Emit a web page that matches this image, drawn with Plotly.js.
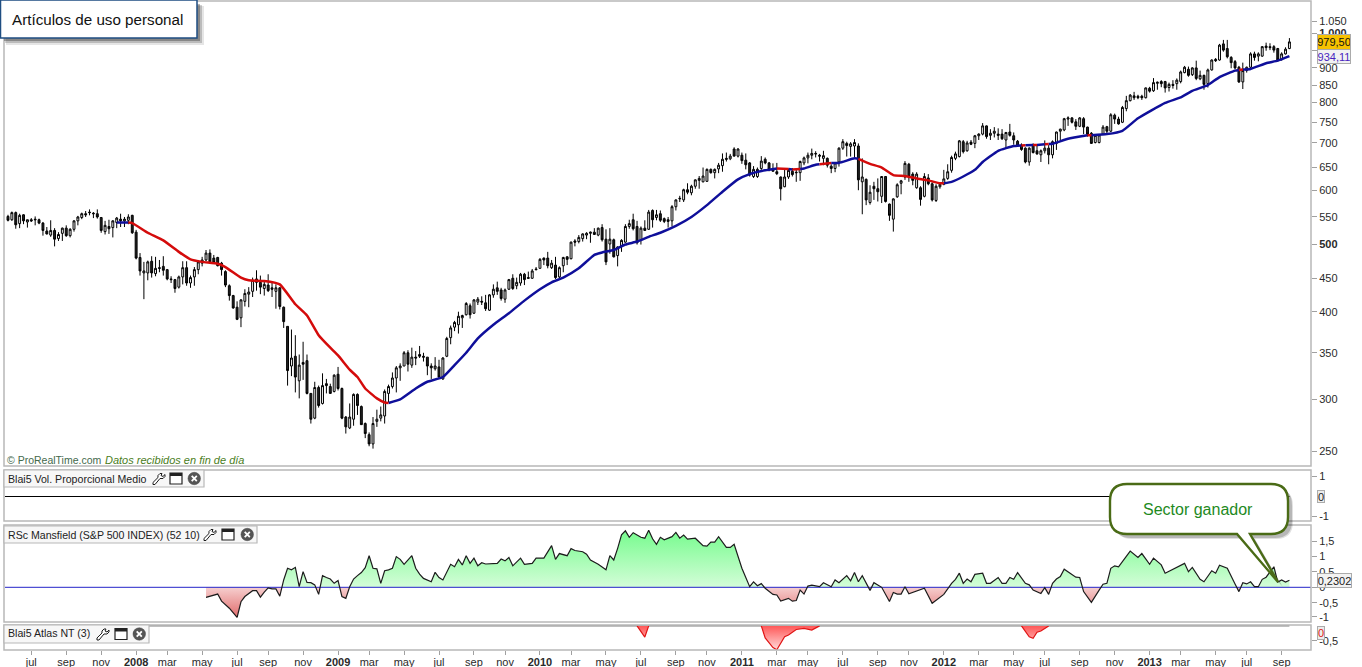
<!DOCTYPE html>
<html><head><meta charset="utf-8">
<script src="https://cdn.plot.ly/plotly-3.0.1.min.js"></script>
<style>html,body{margin:0;padding:0;background:#fff;overflow:hidden}#c{width:1362px;height:667px}</style>
</head><body><div id="c"></div>
<script>
// Weekly candles, week index 0..330
const opens=[547,541,554,534,550,537,541,542,541,535,
521,514,522,508,517,526,513,524,539,545,
552,555,553,552,545,520,529,527,536,542,
539,540,549,519,477,453,453,471,452,461,
463,458,444,443,432,447,461,438,447,458,
468,473,484,476,477,468,455,434,420,404,
390,412,422,426,444,439,430,435,431,426,
431,404,379,332,343,316,336,338,303,279,
309,293,313,310,305,323,308,280,270,278,
302,290,274,264,256,276,279,281,303,310,
319,330,332,347,333,342,345,343,342,332,
329,331,318,343,365,378,381,390,394,406,
396,411,412,410,400,421,431,428,415,429,
445,434,438,451,446,445,459,460,476,476,
461,465,447,464,478,475,504,503,508,514,
517,519,514,527,507,499,506,480,495,502,
529,541,529,506,526,524,558,545,552,543,
541,539,565,580,578,598,592,605,617,614,
615,640,633,641,648,664,663,685,669,671,
660,654,625,625,642,662,654,642,635,624,
604,624,636,634,633,654,665,671,675,671,
664,664,647,642,656,687,698,691,692,692,
614,619,573,605,600,585,625,570,542,584,
611,624,651,630,602,602,585,622,610,577,
604,609,621,638,664,668,702,681,701,698,
716,720,740,717,722,720,720,706,725,716,
703,694,687,656,694,681,672,681,687,672,
698,727,730,757,760,750,739,758,737,722,
700,700,720,738,727,767,757,749,784,805,
818,817,817,813,839,832,853,858,858,841,
850,852,858,884,894,878,898,866,876,852,
892,924,922,973,958,930,917,900,857,890,
900,941,934,934,966,964,964,958,924,941,
958];
const closes=[540,554,532,549,539,541,539,541,535,522,
516,522,507,515,526,513,524,539,546,552,
550,554,552,546,522,531,525,539,544,539,
542,546,518,476,456,456,470,453,460,460,
457,444,443,430,447,461,438,446,458,470,
473,484,470,469,464,458,435,420,403,388,
414,423,425,442,439,432,436,427,429,431,
405,385,327,341,320,333,334,303,278,309,
291,311,311,303,322,308,279,271,280,302,
291,273,265,256,274,278,282,305,310,319,
330,332,347,334,342,341,343,342,332,330,
332,320,341,364,377,384,392,393,409,394,
414,415,411,402,421,429,426,416,428,443,
430,439,451,443,445,456,458,474,473,464,
468,446,461,477,474,502,502,510,516,517,
519,515,526,506,470,507,478,494,505,529,
534,525,501,526,522,555,541,550,540,538,
538,565,578,581,598,593,605,618,621,626,
640,633,640,649,662,662,669,669,685,659,
650,628,640,640,658,654,639,636,631,600,
624,638,629,633,657,665,671,675,674,669,
670,649,642,654,687,702,693,697,700,618,
624,578,593,600,594,625,575,549,580,608,
616,653,625,617,630,579,625,610,578,605,
609,620,635,666,674,704,679,699,696,716,
720,740,714,722,727,717,709,724,717,706,
692,684,656,687,677,674,681,687,672,702,
725,732,758,760,749,739,760,737,720,698,
717,718,737,727,768,757,745,787,805,820,
813,813,813,840,831,855,856,852,840,850,
847,862,886,900,876,898,867,876,850,892,
922,920,969,953,932,914,898,857,890,900,
941,930,941,964,961,961,953,922,941,956,
979.5];
const highs=[550,556,556,552,551,541,544,547,543,537,
528,540,526,519,527,531,526,540,548,554,
557,560,555,560,546,539,541,540,546,552,
546,551,550,523,484,470,472,479,478,473,
479,459,448,444,449,471,471,449,462,473,
478,489,490,481,478,470,457,436,421,412,
415,429,432,446,457,449,441,451,440,436,
432,405,379,375,368,345,360,345,303,315,
311,324,318,313,323,331,309,281,293,303,
303,291,275,266,280,287,290,307,312,325,
332,335,349,350,353,349,355,347,342,335,
342,339,342,366,380,386,398,394,411,409,
415,418,419,421,422,436,440,431,430,444,
451,446,453,453,455,459,462,476,477,486,
473,478,463,478,479,503,507,514,517,519,
520,526,527,533,524,526,508,495,507,533,
541,552,539,529,540,559,560,559,558,545,
546,568,579,586,600,611,608,619,626,644,
642,642,642,654,675,677,674,689,687,677,
675,656,647,644,669,666,656,653,654,625,
639,642,643,640,659,668,677,686,680,674,
681,666,651,656,689,708,702,701,708,698,
664,621,607,614,621,626,626,571,581,611,
618,658,654,634,634,605,632,630,613,609,
612,639,651,670,679,706,706,704,706,718,
722,747,741,732,737,734,732,725,745,724,
706,698,689,689,698,694,684,705,694,705,
726,733,760,764,762,757,762,762,738,725,
718,720,742,740,772,771,763,791,818,823,
829,821,821,841,843,868,858,862,860,855,
862,867,890,904,902,900,920,890,878,896,
924,928,973,986,986,934,922,904,914,902,
946,948,946,966,977,975,969,960,946,962,
992];
const lows=[538,539,525,526,533,527,537,531,533,513,
515,511,495,504,504,511,510,520,531,542,
546,549,544,543,518,515,516,510,526,528,
528,533,516,474,449,415,442,446,448,454,
449,442,438,424,430,436,434,431,434,451,
463,471,467,468,463,449,432,413,402,387,
378,405,404,418,427,422,420,425,418,402,
401,377,311,321,304,298,317,302,274,278,
289,292,303,303,304,306,278,265,269,272,
282,273,261,254,252,271,276,274,294,308,
304,316,332,326,330,333,341,337,322,318,
327,319,317,342,357,373,370,377,393,389,
395,407,407,399,399,417,421,413,410,428,
428,429,434,435,444,444,457,460,465,460,
459,444,445,454,465,474,495,500,503,507,
501,515,512,503,465,483,477,463,486,501,
525,522,498,498,521,523,527,540,537,535,
527,529,558,574,574,589,587,600,600,613,
614,631,621,632,635,657,660,668,666,652,
640,625,622,622,639,651,636,636,628,577,
603,620,625,614,616,649,653,662,666,657,
649,644,632,634,646,683,668,668,666,597,
551,568,569,578,575,572,573,539,520,582,
589,618,614,607,600,567,583,607,575,574,
600,607,618,633,660,666,675,679,694,687,
706,717,709,706,712,706,706,687,714,695,
690,681,653,648,675,672,656,675,651,664,
683,705,727,740,746,730,737,720,714,697,
698,698,718,718,725,745,743,747,777,803,
807,809,807,811,827,829,835,842,827,830,
838,835,853,882,872,874,862,862,835,841,
890,916,920,948,927,897,894,854,837,884,
898,920,918,932,951,953,945,917,920,939,
956];
// Moving average; maFalling marks the segment starting at that point as red
const maWeeks=[28,31,32,36,40,44,47,50,54,56,60,62,66,70,74,77,80,83,85,88,90,92,95,97,98,
101,105,108,112,115,118,121,125,129,133,137,140,143,147,151,153,156,159,162,165,168,172,176,180,184,188,191,195,198,
201,202,204,205,208,209,212,214,218,219,222,225,228,231,234,237,240,241,243,246,249,251,255,259,261,262,264,265,267,268,269,
273,278,279,283,287,291,298,302,305,309,312,316,317,318,320,324,327,330];
const maValues=[536,536,535,518,505,486,474,470,467,462,446,442,441,436,408,393,368,353,344,328,320,308,298,294,293.5,
297,308,315,320,333,347,364,381,396,413,429,439,446,460,481,485,489,498,503,511,518,530,546,568,594,619,630,638,642,
641,640,641,642,650,651,654,654,664,663,652,644,628,626,621,617,611,611,614,625,639,656,681,692,693,693.5,694,694.5,696,696.5,697,
709,717,717.5,720,728,759,799,814,832,848,871,890,892,893,895,912,920,934.11];
const maFalling=[0,1,1,1,1,1,1,1,1,1,1,1,1,1,1,1,1,1,1,1,1,1,1,1,0,
0,0,0,0,0,0,0,0,0,0,0,0,0,0,0,0,0,0,0,0,0,0,0,0,0,0,0,0,1,
0,1,0,0,0,1,0,0,0,1,1,1,1,1,1,1,1,0,0,0,0,0,0,0,1,0,1,0,1,0,0,
0,1,0,0,0,0,0,0,0,0,0,0,1,0,0,0,0,0];
// Vol panel
const volWeeks=[-1,330];
const volValues=[0,0];
// RSc Mansfield
const rsWeeks=[51,52,54,55,56,57,59,60,61,63,64,65,66,67,68,69,70,71,72,73,74,75,76,77,78,79,80,81,82,83,84,85,86,87,88,89,90,91,92,93,94,95,96,97,98,99,100,101,102,104,105,106,107,109,110,111,112,114,115,116,117,118,119,120,121,122,123,126,127,128,129,130,132,133,135,136,138,140,141,142,144,145,146,148,149,150,152,154,155,156,157,158,159,160,161,163,164,165,166,167,168,169,171,172,173,174,175,177,179,180,181,182,183,185,186,187,189,191,192,193,194,195,197,198,199,201,202,203,204,205,206,207,209,210,212,213,214,216,217,218,219,220,222,223,225,227,228,229,230,231,232,236,238,241,243,244,245,246,247,248,249,251,252,253,255,256,257,258,259,260,262,263,264,266,267,268,269,270,271,272,275,276,277,279,281,282,283,284,285,286,289,291,292,294,295,297,298,301,303,304,305,307,308,310,311,312,314,316,317,318,319,320,321,322,323,324,326,327,328,329,330];
const rsValues=[-.33,-.29,-.22,-.45,-.55,-.68,-.98,-.47,-.30,-.11,-.11,-.32,-.16,-.02,-.05,-.05,-.29,.24,.62,.57,.65,.02,.51,.16,.15,.08,-.23,.38,.32,.27,.13,.22,-.30,-.36,.02,.27,.38,.48,.64,1.03,.62,.60,.13,.54,.57,.62,1.0,.91,.75,1.03,.62,.43,.29,.18,.49,.32,.24,.75,.67,.91,.73,1.03,.78,.95,.70,.80,.76,.78,.92,.86,.97,.70,.95,.75,.78,.95,.95,1.36,.91,1.10,1.03,1.26,1.20,1.16,1.08,.89,.75,.57,1.03,.89,1.27,1.71,1.84,1.63,1.78,1.63,1.60,1.86,1.58,1.40,1.63,1.55,1.65,1.79,1.60,1.70,1.57,1.60,1.36,1.34,1.47,1.47,1.65,1.30,1.30,1.40,.62,.02,.18,.05,.12,-.03,-.23,-.25,-.45,-.36,-.45,-.43,-.09,-.22,.04,.07,.02,.15,.02,.24,.15,.38,.21,.48,.18,.38,-.10,.15,0,-.46,-.17,-.22,-.22,.02,-.21,-.03,-.52,-.23,.13,.26,.46,.13,.27,.18,.42,.46,.13,.13,.32,.13,.13,.32,.26,.48,.13,.08,-.09,-.20,-.01,-.23,.13,.27,.35,.59,.33,.32,-.14,-.49,-.09,.10,.13,.62,.70,.67,1.18,.97,1.10,.75,.95,.73,.46,.65,.78,.51,.65,.26,.18,.54,.46,.72,.62,.11,-.14,.15,.11,.18,.02,.02,.26,.33,.67,.17,.24,.17,.23];
const rsZeroWeeks=[-1,336];
const rsZeroValues=[0,0];
// Blai5 Atlas NT
const atlasWeeks=[162,164,165,null,194,195,197,198,200,201,203,205,207,209,null,261,263,264,265,266,268];
const atlasValues=[0,-.37,0,null,0,-.40,-.72,-.79,-.36,-.30,-.12,-.08,-.14,0,null,0,-.36,-.41,-.21,-.17,0];
const atlasBaseWeeks=[-1,330];
const atlasBaseValues=[0,0];
// Axis labels
const xTickWeeks=[6,15,24,33,41,50,59,67,76,85,93,102,111,120,128,137,145,154,163,172,180,189,198,206,215,224,232,241,250,259,267,276,285,294,302,311,319,328];
const xTickLabels=['jul','sep','nov','2008','mar','may','jul','sep','nov','2009','mar','may','jul','sep','nov','2010','mar','may','jul','sep','nov','2011','mar','may','jul','sep','nov','2012','mar','may','jul','sep','nov','2013','mar','may','jul','sep'];
// positions where the picture's price ticks sit on the fitted log scale
const priceTicks=[250,297,347,398,445,498,546,597,645,699,749,800,848,898,953,1009,1049];
const priceTickLabels=['250','300','350','400','450','<b>500</b>','550','600','650','700','750','800','850','900','950','<b>1.000</b>','1.050'];
const volTicks=[-1,1];
const rsTicks=[-.96,-.5,0,.5,1,1.5];
const rsTickLabels=['-1','-0,5','0','0,5','1','1,5'];
const atlasTicks=[-.5];
const atlasTickLabels=['-0,5'];

const F='"Liberation Sans",Arial,sans-serif';
const PW=1306,PH=648;
const px=x=>(x-5)/PW, py=y=>(650-y)/PH;
const P=(x,y)=>px(x).toFixed(5)+' '+py(y).toFixed(5);
const poly=(pts,close)=>pts.map((p,i)=>(i?'L':'M')+P(p[0],p[1])).join(' ')+(close?' Z':'');
const paperShape=o=>Object.assign({xref:'paper',yref:'paper',layer:'above'},o);
const rect=(x0,y0,x1,y1,fill,line,w,op)=>paperShape({type:'rect',x0:px(x0),x1:px(x1),y0:py(y0),y1:py(y1),fillcolor:fill||'rgba(0,0,0,0)',line:{color:line||'rgba(0,0,0,0)',width:w||0},opacity:op==null?1:op});

// MA runs of one colour, each drawn smooth
const seg={0:{x:[],y:[]},1:{x:[],y:[]}};
for(let k=0;k<maWeeks.length-1;k++){
  const f=maFalling[k],s=seg[f];
  if(k===0||maFalling[k-1]!==f){ if(s.x.length){s.x.push(null);s.y.push(null);} s.x.push(maWeeks[k]);s.y.push(maValues[k]); }
  s.x.push(maWeeks[k+1]);s.y.push(maValues[k+1]);
}

// Mansfield pos/neg split for the two fills
const pos={x:[],y:[]},neg={x:[],y:[]};
for(let k=0;k<rsWeeks.length;k++){
  const v=rsValues[k],w=rsWeeks[k];
  if(k){const v0=rsValues[k-1],w0=rsWeeks[k-1];
    if(v0*v<0){const wc=w0+(w-w0)*v0/(v0-v);pos.x.push(wc);pos.y.push(0);neg.x.push(wc);neg.y.push(0);}}
  pos.x.push(w);pos.y.push(Math.max(v,0));neg.x.push(w);neg.y.push(Math.min(v,0));
}

const traces=[
 {type:'candlestick',x:opens.map((_,i)=>i),open:opens,high:highs,low:lows,close:closes,xaxis:'x',yaxis:'y',
  whiskerwidth:0,hoverinfo:'skip',showlegend:false,
  increasing:{line:{color:'#000',width:1},fillcolor:'#fff'},decreasing:{line:{color:'#000',width:1},fillcolor:'#222'}},
 {type:'scatter',mode:'lines',x:seg[0].x,y:seg[0].y,xaxis:'x',yaxis:'y',line:{color:'#0f0f9a',width:2.5,shape:'spline',smoothing:.4},hoverinfo:'skip',showlegend:false},
 {type:'scatter',mode:'lines',x:seg[1].x,y:seg[1].y,xaxis:'x',yaxis:'y',line:{color:'#d40b0b',width:2.5,shape:'spline',smoothing:.4},hoverinfo:'skip',showlegend:false},
 {type:'scatter',mode:'lines',x:volWeeks,y:volValues,xaxis:'x',yaxis:'y2',line:{color:'#000',width:1.2},hoverinfo:'skip',showlegend:false},
 {type:'scatter',mode:'none',x:pos.x,y:pos.y,xaxis:'x',yaxis:'y3',fill:'tozeroy',
  fillgradient:{type:'vertical',start:0,stop:1.9,colorscale:[[0,'#d4fdd8'],[1,'#74fb8c']]},hoverinfo:'skip',showlegend:false},
 {type:'scatter',mode:'none',x:neg.x,y:neg.y,xaxis:'x',yaxis:'y3',fill:'tozeroy',
  fillgradient:{type:'vertical',start:0,stop:-1,colorscale:[[0,'#f6cfcf'],[1,'#e06a6a']]},hoverinfo:'skip',showlegend:false},
 {type:'scatter',mode:'lines',x:rsZeroWeeks,y:rsZeroValues,xaxis:'x',yaxis:'y3',line:{color:'#2424c8',width:1},hoverinfo:'skip',showlegend:false},
 {type:'scatter',mode:'lines',x:rsWeeks,y:rsValues,xaxis:'x',yaxis:'y3',line:{color:'#1c1c1c',width:1.2},hoverinfo:'skip',showlegend:false},
 {type:'scatter',mode:'lines',x:atlasBaseWeeks,y:atlasBaseValues,xaxis:'x',yaxis:'y4',line:{color:'#808080',width:1.2},hoverinfo:'skip',showlegend:false},
 {type:'scatter',mode:'lines',x:atlasWeeks,y:atlasValues,xaxis:'x',yaxis:'y4',fill:'tozeroy',connectgaps:false,
  fillgradient:{type:'vertical',start:-.8,stop:0,colorscale:[[0,'#ffdcdc'],[1,'#ff5858']]},line:{color:'#e01414',width:1.2},hoverinfo:'skip',showlegend:false}
];

const tickCommon={ticks:'outside',ticklen:5,tickwidth:1,tickcolor:'#a0a0a0',showgrid:false,tickfont:{family:F,size:11,color:'#2a2a2a'},fixedrange:true};
const layout={width:1362,height:667,margin:{l:5,r:51,t:2,b:17,pad:0},paper_bgcolor:'#fff',plot_bgcolor:'#fff',showlegend:false,dragmode:false,boxgap:.3,
 font:{family:F},
 xaxis:Object.assign({},tickCommon,{type:'linear',anchor:'y4',range:[-.77,335.56],tickmode:'array',tickvals:xTickWeeks,
   ticktext:xTickLabels.map(s=>/^\d/.test(s)?'<b>'+s+'</b>':s),zeroline:false,rangeslider:{visible:false},ticklen:4,ticklabelstandoff:-2,tickangle:0}),
 yaxis:Object.assign({},tickCommon,{type:'log',domain:[184/PH,1],anchor:'x',side:'right',range:[Math.log10(237.8),Math.log10(1119)],tickmode:'array',tickvals:priceTicks,ticktext:priceTickLabels}),
 yaxis2:Object.assign({},tickCommon,{domain:[129/PH,180/PH],anchor:'x',side:'right',range:[-1.22,1.32],tickmode:'array',tickvals:volTicks,ticktext:volTicks.map(String),zeroline:false}),
 yaxis3:Object.assign({},tickCommon,{domain:[28/PH,125/PH],anchor:'x',side:'right',range:[-1.13,2.03],tickmode:'array',tickvals:rsTicks,ticktext:rsTickLabels,zeroline:false}),
 yaxis4:Object.assign({},tickCommon,{domain:[0,25/PH],anchor:'x',side:'right',range:[-.8,.03],tickmode:'array',tickvals:atlasTicks,ticktext:atlasTickLabels,zeroline:false})
};

// Panel frames
const B='#b8b8b8';
const shapes=[
 rect(4,1,1311,466,null,B,1.5),rect(4,470,1311,521,null,B,1.5),rect(4,525,1311,622,null,B,1.5),rect(4,625,1311,650,null,B,1.5)
];
// Title box with shadow
shapes.push(rect(6,6,204,45,'#000',null,0,.10),rect(5,5,202,43,'#000',null,0,.18),rect(4,4,200,41,'#000',null,0,.28));
shapes.push(rect(.5,0,197,38,'#fff','#1f4e82',1.5));
// Tabs
function tab(y0,y1,xEnd,xw,xWin,xC){
 const cy=(y0+y1)/2;
 shapes.push(rect(4,y0,xEnd,y1,'#f7f7f7',B,1.2));
 const w=xw;
 shapes.push(paperShape({type:'path',path:poly([[w,cy+6],[w+2,cy+6],[w+7,cy],[w+10,cy],[w+12,cy-2],[w+12,cy-4],[w+10,cy-2],[w+8,cy-3],[w+9,cy-5],[w+7,cy-5],[w+5,cy-3],[w+5,cy-1],[w,cy+4]],true),fillcolor:'#fff',line:{color:'#1a1a1a',width:1}}));
 shapes.push(rect(xWin,cy-5.5,xWin+12,cy+5.5,'#fff','#222',1.2));
 shapes.push(rect(xWin,cy-5.5,xWin+12,cy-2.5,'#222',null,0));
 shapes.push(paperShape({type:'circle',x0:px(xC),x1:px(xC+12.5),y0:py(cy-6.2),y1:py(cy+6.2),fillcolor:'#555',line:{color:'#444',width:.5}}));
 shapes.push(paperShape({type:'path',path:poly([[xC+3.7,cy-2.6],[xC+8.8,cy+2.6]]),line:{color:'#fff',width:1.8}}));
 shapes.push(paperShape({type:'path',path:poly([[xC+8.8,cy-2.6],[xC+3.7,cy+2.6]]),line:{color:'#fff',width:1.8}}));
}
tab(470,487,204,153,170,188);
tab(526,543,257,204,222,241);
tab(625,643,149,97,115,133);
// Callout
function bubble(dx,dy){
 const x0=1110+dx,x1=1288+dx,y0=484+dy,y1=534+dy,r=17;
 const q=(a,b)=>'Q'+P(a[0],a[1])+' '+P(b[0],b[1]);
 return 'M'+P(x0+r,y0)+' L'+P(x1-r,y0)+' '+q([x1,y0],[x1,y0+r])+' L'+P(x1,y1-r)+' '+q([x1,y1],[x1-r,y1])+
  ' L'+P(1250+dx,y1)+' L'+P(1278+dx,582+dy)+' L'+P(1237+dx,y1)+' L'+P(x0+r,y1)+' '+q([x0,y1],[x0,y1-r])+' L'+P(x0,y0+r)+' '+q([x0,y0],[x0+r,y0])+' Z';
}
shapes.push(paperShape({type:'path',path:bubble(5,5),fillcolor:'#000',opacity:.12,line:{width:0}}));
shapes.push(paperShape({type:'path',path:bubble(4,4),fillcolor:'#000',opacity:.18,line:{width:0}}));
shapes.push(paperShape({type:'path',path:bubble(0,0),fillcolor:'#fff',line:{color:'#4a6b16',width:2.4}}));
layout.shapes=shapes;

const tag=(x,y,w,h,text,color,bg,yref)=>({xref:'paper',yref:yref||'paper',x:px(x),y:y,xanchor:'left',yanchor:'middle',width:w,height:h,align:'center',valign:'middle',text:text,showarrow:false,font:{family:F,size:11,color:color},bgcolor:bg,bordercolor:'#ababab',borderwidth:1,borderpad:0});
const label=(x,y,text,size,color,extra)=>Object.assign({xref:'paper',yref:'paper',x:px(x),y:py(y),xanchor:'left',yanchor:'middle',text:text,showarrow:false,font:{family:F,size:size,color:color}},extra||{});
layout.annotations=[
 label(9.5,19,'Artículos de uso personal',15.2,'#111'),
 label(5,460,'© ProRealTime.com',10.5,'#44694c'),
 label(103,460,'<i>Datos recibidos en fin de día</i>',11,'#4a7d1c'),
 label(6,479,'Blai5 Vol. Proporcional Medio',10.6,'#222'),
 label(6,535,'RSc Mansfield (S&P 500 INDEX) (52 10)',10.6,'#222'),
 label(6,633,'Blai5 Atlas NT (3)',10.6,'#222'),
 label(1198,509,'Sector ganador',16,'#1e8a1e',{xanchor:'center'}),
 tag(1316.5,Math.log10(closes[closes.length-1])-0.0005,32,14,'979,50','#111','#f7c200','y'),
 tag(1316.5,Math.log10(maValues[maValues.length-1]),32,13,'934,11','#4a1fc0','#f2f2f2','y'),
 tag(1316.5,0,6,11,'0','#222','#ececec','y2'),
 tag(1316.5,0.2302,33,13,'0,2302','#222','#f2f2f2','y3'),
 tag(1316.5,py(633),6,12,'0','#e01414','#ececec')
];
Plotly.newPlot('c',traces,layout,{staticPlot:true,displayModeBar:false});
</script></body></html>
